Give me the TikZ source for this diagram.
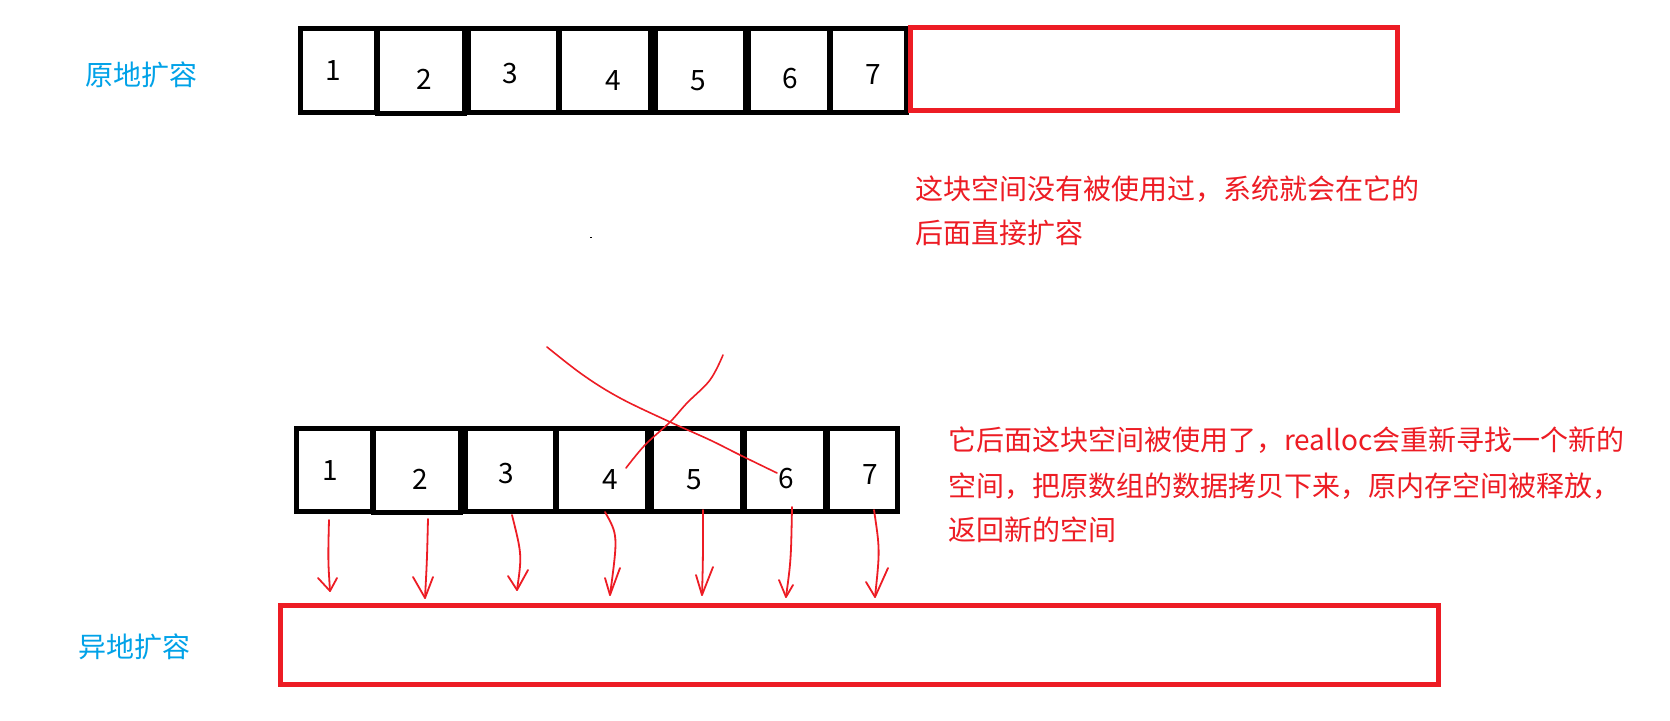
\documentclass[tikz,border=0pt]{standalone}
\usepackage{fontspec}
\setmainfont{Noto Sans CJK SC}
\definecolor{pred}{HTML}{ED1C24}
\definecolor{pblue}{HTML}{00A2E8}
\tikzset{
  cell/.style={draw=black, line width=5pt, inner sep=0pt},
  num/.style={inner sep=0pt, font=\fontsize{28}{28}\selectfont},
  lbl/.style={text=pblue, inner sep=0pt, font=\fontsize{28}{28}\selectfont, text height=0.88em, text depth=0.12em},
  note/.style={text=pred, inner sep=0pt, anchor=west, font=\fontsize{28}{28}\selectfont, text height=0.88em, text depth=0.12em},
  redbox/.style={draw=pred, line width=5pt, inner sep=0pt},
  pen/.style={draw=pred, line width=1.8pt, line cap=round, line join=round},
}
\begin{document}
\begin{tikzpicture}[x=1pt,y=-1pt]
\useasboundingbox[fill=white] (0,0) rectangle (1670,720);

% labels
\node[lbl] (lab1) at (141,82) {原地扩容};
\node[lbl] (lab2) at (134,654) {异地扩容};

% top row
\node[cell, minimum width=76pt, minimum height=84pt] (t1) at (338,70) {};
\node[cell, minimum width=87pt, minimum height=85pt] (t2) at (420.5,70.5) {};
\node[cell, minimum width=90pt, minimum height=84pt] (t3) at (513,70) {};
\node[cell, minimum width=91pt, minimum height=84pt] (t4) at (604.5,70) {};
\node[cell, minimum width=90pt, minimum height=84pt] (t5) at (700,70) {};
\node[cell, minimum width=81pt, minimum height=84pt] (t6) at (788.5,70) {};
\node[cell, minimum width=76pt, minimum height=84pt] (t7) at (868,70) {};
\node[redbox, minimum width=487pt, minimum height=83pt] (topbox) at (1153.5,69) {};

\node[num] (tn1) at (333,71) {1};
\node[num] (tn2) at (424,79) {2};
\node[num] (tn3) at (510,74) {3};
\node[num] (tn4) at (613,81) {4};
\node[num] (tn5) at (698,81) {5};
\node[num] (tn6) at (790,79) {6};
\node[num] (tn7) at (873,75) {7};

% stray dot
\fill[black] (590,236.5) rectangle (592,238);

% notes
\node[note] (r1a) at (915,195.5) {这块空间没有被使用过，系统就会在它的};
\node[note] (r1b) at (915,240) {后面直接扩容};
\node[note] (r2a) at (948,447) {它后面这块空间被使用了，realloc会重新寻找一个新的};
\node[note] (r2b) at (948,493) {空间，把原数组的数据拷贝下来，原内存空间被释放，};
\node[note] (r2c) at (948,537) {返回新的空间};

% bottom row
\node[cell, minimum width=76pt, minimum height=83pt] (b1) at (334,469.5) {};
\node[cell, minimum width=87pt, minimum height=84pt] (b2) at (416.5,470) {};
\node[cell, minimum width=90pt, minimum height=83pt] (b3) at (510,469.5) {};
\node[cell, minimum width=91pt, minimum height=83pt] (b4) at (601.5,469.5) {};
\node[cell, minimum width=91pt, minimum height=83pt] (b5) at (696.5,469.5) {};
\node[cell, minimum width=81pt, minimum height=83pt] (b6) at (784.5,469.5) {};
\node[cell, minimum width=70pt, minimum height=83pt] (b7) at (862,469.5) {};

\node[num] (bn1) at (330,471) {1};
\node[num] (bn2) at (420,479) {2};
\node[num] (bn3) at (506,474) {3};
\node[num] (bn4) at (610,480) {4};
\node[num] (bn5) at (694,480) {5};
\node[num] (bn6) at (786,479) {6};
\node[num] (bn7) at (870,475) {7};

\node[redbox, minimum width=1158pt, minimum height=79pt] (bigbox) at (859,644.5) {};

% red cross
\draw[pen, line width=1.6pt] plot[smooth, tension=0.6] coordinates {(547,347) (583,375) (620,398) (670,422) (710,440) (740,455) (777,473)};
\draw[pen, line width=1.6pt] plot[smooth, tension=0.6] coordinates {(723,355) (710,380) (687,403) (670,422) (645,445) (626,468)};

% arrows
\coordinate (s1) at (329,520); \coordinate (e1) at (330,591);
\coordinate (s2) at (428,519); \coordinate (e2) at (425,598);
\coordinate (s3) at (512,515); \coordinate (e3) at (517,590);
\coordinate (s4) at (605,512); \coordinate (e4) at (610,595);
\coordinate (s5) at (703,510); \coordinate (e5) at (702,595);
\coordinate (s6) at (792,507); \coordinate (e6) at (786,597);
\coordinate (s7) at (874,510); \coordinate (e7) at (875,597);

\draw[pen] (s1) .. controls (328,560) .. (e1);
\draw[pen] (e1) ++(-12,-13) -- (e1) -- ++(7,-13);
\draw[pen] (s2) .. controls (427,560) .. (e2);
\draw[pen] (e2) ++(-12,-21) -- (e2) -- ++(8,-21);
\draw[pen] (s3) .. controls (522,555) .. (e3);
\draw[pen] (e3) ++(-9,-14) -- (e3) -- ++(11,-20);
\draw[pen] (s4) .. controls (618,535) .. (e4);
\draw[pen] (e4) ++(-5,-17) -- (e4) -- ++(10,-27);
\draw[pen] (s5) .. controls (703,560) .. (e5);
\draw[pen] (e5) ++(-6,-20) -- (e5) -- ++(11,-28);
\draw[pen] (s6) .. controls (791,560) .. (e6);
\draw[pen] (e6) ++(-7,-17) -- (e6) -- ++(7,-12);
\draw[pen] (s7) .. controls (880,550) .. (e7);
\draw[pen] (e7) ++(-9,-15) -- (e7) -- ++(13,-29);
\end{tikzpicture}
\end{document}
